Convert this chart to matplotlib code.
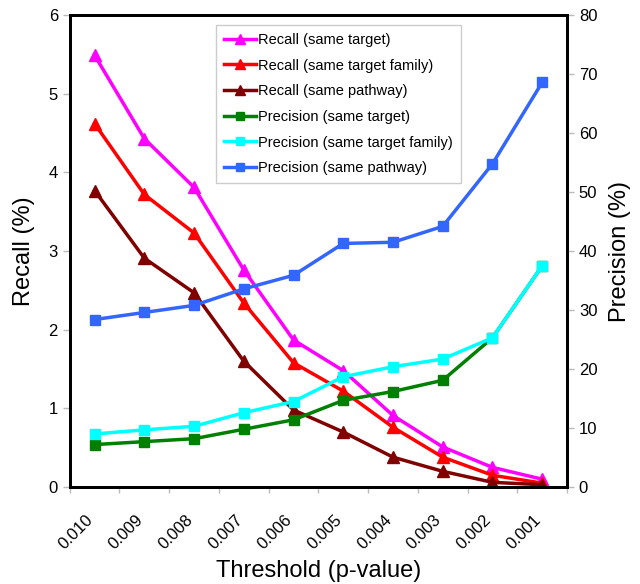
import matplotlib.pyplot as plt
import matplotlib.transforms as mtransforms

plt.rcParams['font.family'] = ['Liberation Sans', 'DejaVu Sans']

# categorie (soglie p-value)
thresholds = ["0.010", "0.009", "0.008", "0.007", "0.006",
              "0.005", "0.004", "0.003", "0.002", "0.001"]

# recall (%) - asse sinistro
recall_target = [5.49, 4.43, 3.81, 2.76, 1.87, 1.48, 0.91, 0.51, 0.25, 0.10]
recall_family = [4.62, 3.72, 3.23, 2.34, 1.58, 1.22, 0.76, 0.38, 0.15, 0.05]
recall_pathway = [3.77, 2.91, 2.47, 1.60, 0.98, 0.70, 0.38, 0.20, 0.06, 0.03]

# precision (%) - asse destro
prec_target = [7.2, 7.7, 8.2, 9.8, 11.4, 14.7, 16.2, 18.1, 25.3, 37.5]
prec_family = [9.0, 9.7, 10.3, 12.6, 14.5, 18.7, 20.4, 21.7, 25.3, 37.5]
prec_pathway = [28.4, 29.6, 30.8, 33.6, 35.9, 41.3, 41.5, 44.2, 54.8, 68.6]

x = list(range(len(thresholds)))

fig = plt.figure(figsize=(6.4, 5.84), dpi=100)
ax = fig.add_axes([0.109, 0.166, 0.777, 0.808])
ax2 = ax.twinx()

lw = 2.5
ax.plot(x, recall_target, color="#FF00FF", lw=lw, marker="^", ms=9, label="Recall (same target)")
ax.plot(x, recall_family, color="#FF0000", lw=lw, marker="^", ms=9, label="Recall (same target family)")
ax.plot(x, recall_pathway, color="#800000", lw=lw, marker="^", ms=9, label="Recall (same pathway)")
ax2.plot(x, prec_target, color="#008000", lw=lw, marker="s", ms=7, label="Precision (same target)")
ax2.plot(x, prec_family, color="#00FFFF", lw=lw, marker="s", ms=7, label="Precision (same target family)")
ax2.plot(x, prec_pathway, color="#3366FF", lw=lw, marker="s", ms=7, label="Precision (same pathway)")

ax.set_xlim(-0.5, len(x) - 0.5)
ax.set_ylim(0, 6)
ax2.set_ylim(0, 80)
ax.set_yticks(range(0, 7))
ax2.set_yticks(range(0, 81, 10))

# tacche tra le categorie, etichette al centro
ax.set_xticks([i - 0.5 for i in range(len(x) + 1)])
ax.set_xticklabels([])
ax.set_xticks(x, minor=True)
ax.set_xticklabels(thresholds, minor=True, rotation=45, ha="right",
                   rotation_mode="anchor")
ax.tick_params(axis="x", which="minor", length=0, pad=18, labelsize=12)
ax.tick_params(axis="x", which="major", length=4, width=1, color="#bbbbbb")
ax.tick_params(axis="y", labelsize=12, length=5, width=1, color="#bbbbbb")
ax2.tick_params(axis="y", labelsize=12, length=5, width=1, color="#bbbbbb")

# sposta un po' a sinistra le etichette ruotate
shift = mtransforms.ScaledTranslation(-0.09, 0, fig.dpi_scale_trans)
for lab in ax.get_xticklabels(minor=True):
    lab.set_transform(lab.get_transform() + shift)

for a in (ax, ax2):
    for s in a.spines.values():
        s.set_linewidth(2)

ax.set_xlabel("Threshold (p-value)", fontsize=17, labelpad=6)
ax.set_ylabel("Recall (%)", fontsize=17, labelpad=10)
ax2.set_ylabel("Precision (%)", fontsize=17, labelpad=8)

h1, l1 = ax.get_legend_handles_labels()
h2, l2 = ax2.get_legend_handles_labels()
leg = ax2.legend(h1 + h2, l1 + l2, loc="upper left", bbox_to_anchor=(0.28, 0.995),
                 fontsize=10.5, handlelength=2.2, handletextpad=0.1,
                 labelspacing=0.8, fancybox=False, framealpha=1,
                 borderpad=0.55, markerscale=0.8)
leg.get_frame().set_edgecolor("#cccccc")
leg.get_frame().set_linewidth(1)

fig.savefig("out.png", dpi=100)
